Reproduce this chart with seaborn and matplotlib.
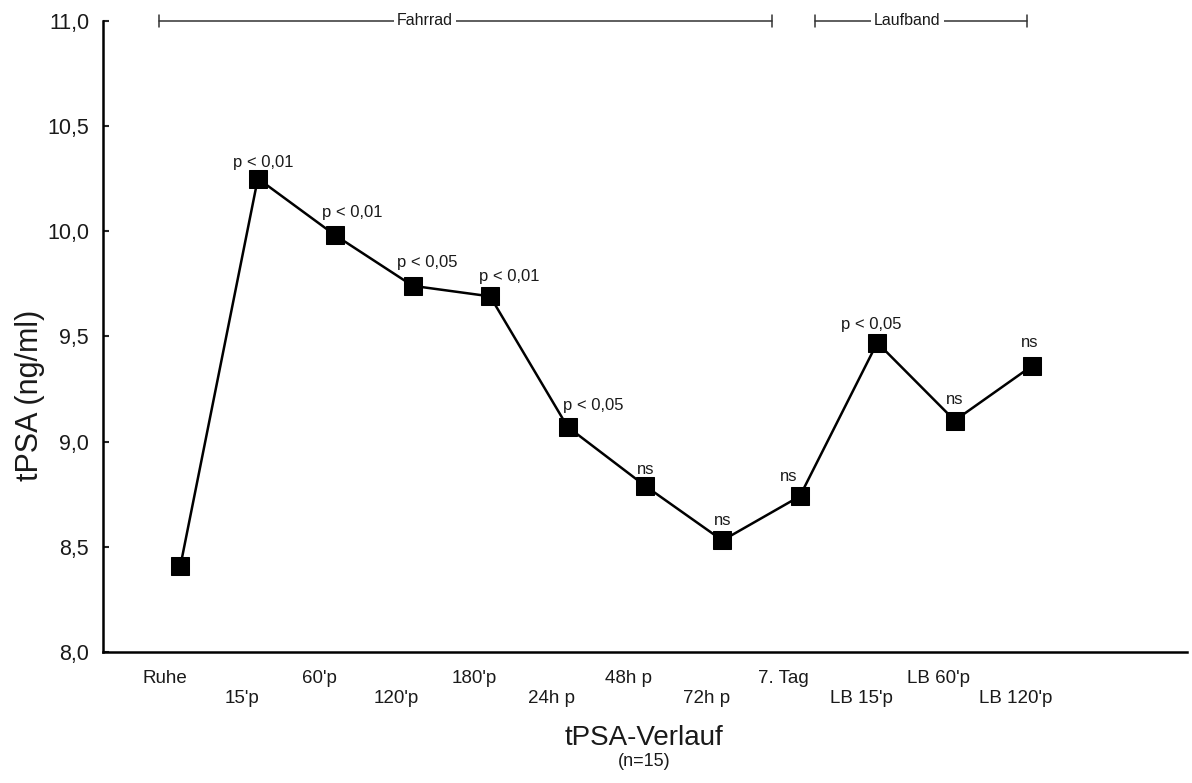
import matplotlib.pyplot as plt
import matplotlib.transforms as mtransforms
import pandas as pd
import seaborn as sns

# Werte
zeitpunkte = ["Ruhe", "15'p", "60'p", "120'p", "180'p", "24h p", "48h p",
              "72h p", "7. Tag", "LB 15'p", "LB 60'p", "LB 120'p"]
tpsa = [8.41, 10.25, 9.98, 9.74, 9.69, 9.07, 8.79, 8.53, 8.74, 9.47, 9.10, 9.36]
signifikanz = ["", "p < 0,01", "p < 0,01", "p < 0,05", "p < 0,01", "p < 0,05",
               "ns", "ns", "ns", "p < 0,05", "ns", "ns"]
yticks = [8.0, 8.5, 9.0, 9.5, 10.0, 10.5, 11.0]

# Versatz der Signifikanz-Beschriftung (Pixel)
label_dx = [0, 5, 17, 15, 19, 26, 1, 0, -11, -6, 0, -2]
label_dy = [0, 12, 18, 19, 15, 17, 12, 15, 15, 14, 17, 19]

# Klammern oben: Fahrrad / Laufband
phasen = ["Fahrrad", "Laufband"]
phasen_von = [-0.28, 8.19]
phasen_bis = [7.64, 10.94]
phasen_text = [3.16, 9.39]

sns.set_theme(style='white')
plt.rcParams['font.family'] = ['Liberation Sans', 'DejaVu Sans']
textfarbe = '#1a1a1a'

df = pd.DataFrame({'pos': range(len(zeitpunkte)), 'tpsa': tpsa})

fig, ax = plt.subplots(figsize=(11.92, 7.83), dpi=100)
fig.subplots_adjust(left=0.0864, right=0.9958, bottom=0.1673, top=0.9736)

sns.lineplot(data=df, x='pos', y='tpsa', color='black', lw=1.8, marker='s',
             markersize=13, markeredgecolor='black', ax=ax, clip_on=False)

for i, s in enumerate(signifikanz):
    if s:
        ax.annotate(s, (df['pos'][i], df['tpsa'][i]),
                    xytext=(label_dx[i] * 0.72, label_dy[i] * 0.72),
                    textcoords='offset points', ha='center', va='baseline',
                    fontsize=12, color=textfarbe)

# Klammern
for name, von, bis, tx in zip(phasen, phasen_von, phasen_bis, phasen_text):
    ax.plot([von, bis], [11.0, 11.0], color='#333333', lw=1.1, clip_on=False)
    for xe in (von, bis):
        ax.plot([xe, xe], [10.972, 11.028], color='#333333', lw=1.1, clip_on=False)
    ax.text(tx, 11.0, name, ha='center', va='center', fontsize=11.5, color=textfarbe,
            bbox=dict(facecolor='white', edgecolor='none', pad=2))

ax.set_xlim(-1, 13)
ax.set_ylim(8, 11)
ax.set_yticks(yticks, [f"{v:.1f}".replace('.', ',') for v in yticks])
ax.set_xticks(range(len(zeitpunkte)),
              [("\n" if i % 2 else "") + z for i, z in enumerate(zeitpunkte)])
ax.set_xticks([i for i in range(len(zeitpunkte)) if i % 2], minor=True)

ax.tick_params(axis='y', direction='in', length=4, width=1.5, pad=10,
               labelsize=15.5, labelcolor=textfarbe, left=True)
ax.tick_params(axis='x', which='major', length=0, pad=13, labelsize=13.5,
               labelcolor=textfarbe)
ax.tick_params(axis='x', which='minor', direction='in', length=3, width=1.5,
               bottom=True)
for lbl in ax.get_xticklabels():
    lbl.set_linespacing(1.25)
    lbl.set_transform(lbl.get_transform() +
                      mtransforms.ScaledTranslation(-0.16, 0, fig.dpi_scale_trans))

ax.set_ylabel('tPSA (ng/ml)', fontsize=22, color=textfarbe)
ax.yaxis.set_label_coords(-0.0535, 0.407)
ax.set_xlabel('tPSA-Verlauf', fontsize=20, color=textfarbe)
ax.xaxis.set_label_coords(0.4995, -0.115)
ax.text(0.4995, -0.160, '(n=15)', transform=ax.transAxes, ha='center', va='top',
        fontsize=13, color=textfarbe)

for side in ['top', 'right']:
    ax.spines[side].set_visible(False)
for side in ['left', 'bottom']:
    ax.spines[side].set_color('black')
    ax.spines[side].set_linewidth(1.8)

plt.savefig('out.png', dpi=100)
